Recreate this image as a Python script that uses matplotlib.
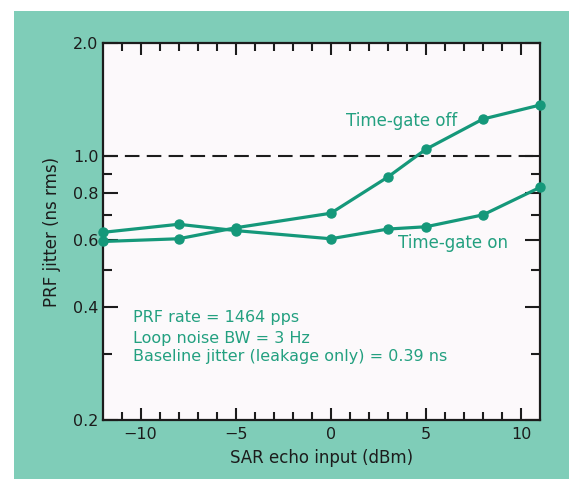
import numpy as np
import matplotlib.pyplot as plt
from matplotlib.patches import Rectangle
from matplotlib.ticker import FixedLocator, NullFormatter

plt.rcParams['font.family'] = ['DejaVu Sans']

echo_input = [-12, -8, -5, 0, 3, 5, 8, 11]
jitter_gate_off = [0.595, 0.605, 0.647, 0.707, 0.882, 1.045, 1.257, 1.369]
jitter_gate_on = [0.629, 0.661, 0.636, 0.605, 0.642, 0.651, 0.700, 0.828]

y_major = [0.2, 0.4, 0.6, 0.8, 1.0, 2.0]
y_major_labels = ['0.2', '0.4', '0.6', '0.8', '1.0', '2.0']
y_minor = [0.3, 0.5, 0.7, 0.9]
x_major = [-10, -5, 0, 5, 10]
x_minor = list(range(-11, 11))

notes = ['PRF rate = 1464 pps',
         'Loop noise BW = 3 Hz',
         'Baseline jitter (leakage only) = 0.39 ns']

teal_bg = '#7fcdb8'
line_green = '#15987a'
text_green = '#23a080'
ink = '#1c1c1c'

fig = plt.figure(figsize=(5.69, 4.79), dpi=100)
fig.patch.set_facecolor('white')
bg = Rectangle((14 / 569, 0), 1 - 14 / 569, 1 - 11 / 479,
               transform=fig.transFigure, facecolor=teal_bg,
               edgecolor='none', zorder=-10)
fig.add_artist(bg)

ax = fig.add_axes([102.5 / 569, 1 - 420 / 479, 437.5 / 569, 377 / 479])
ax.set_facecolor('#fcf9fb')
ax.set_yscale('log')
ax.set_xlim(-12, 11)
ax.set_ylim(0.2, 2.0)

ax.axhline(1.0, color=ink, lw=1.5, dashes=(7, 3.5), zorder=2)

for ys in (jitter_gate_off, jitter_gate_on):
    ax.plot(echo_input, ys, color=line_green, lw=2.3, marker='o', ms=6.5,
            clip_on=False, zorder=3)

ax.yaxis.set_major_locator(FixedLocator(y_major))
ax.set_yticklabels(y_major_labels)
ax.yaxis.set_minor_locator(FixedLocator(y_minor))
ax.yaxis.set_minor_formatter(NullFormatter())
ax.xaxis.set_major_locator(FixedLocator(x_major))
ax.xaxis.set_minor_locator(FixedLocator(x_minor))
ax.set_xticklabels(['\u221210', '\u22125', '0', '5', '10'])

ax.tick_params(axis='both', which='both', direction='in', top=True, right=True,
               colors=ink, width=1.5)
ax.tick_params(axis='y', which='major', length=10.5, pad=3, labelsize=11.5)
ax.tick_params(axis='y', which='minor', length=6.5)
ax.tick_params(axis='x', which='major', length=8.5, pad=5, labelsize=11.5)
ax.tick_params(axis='x', which='minor', length=5.5)
for s in ax.spines.values():
    s.set_linewidth(1.6)
    s.set_color(ink)

ax.set_ylabel('PRF jitter (ns rms)', fontsize=12, color=ink)
ax.yaxis.set_label_coords(-0.095, 0.5)
ax.set_xlabel('SAR echo input (dBm)', fontsize=12, color=ink)
ax.xaxis.set_label_coords(0.5, -0.077)

ax.text(3.73, 1.242, 'Time-gate off', color=text_green, fontsize=12,
        ha='center', va='center')
ax.text(6.4, 0.590, 'Time-gate on', color=text_green, fontsize=12,
        ha='center', va='center')
for note, yv in zip(notes, [0.373, 0.330, 0.294]):
    ax.text(-10.4, yv, note, color=text_green, fontsize=11.5, ha='left', va='center')

fig.savefig('out.png', dpi=100)
